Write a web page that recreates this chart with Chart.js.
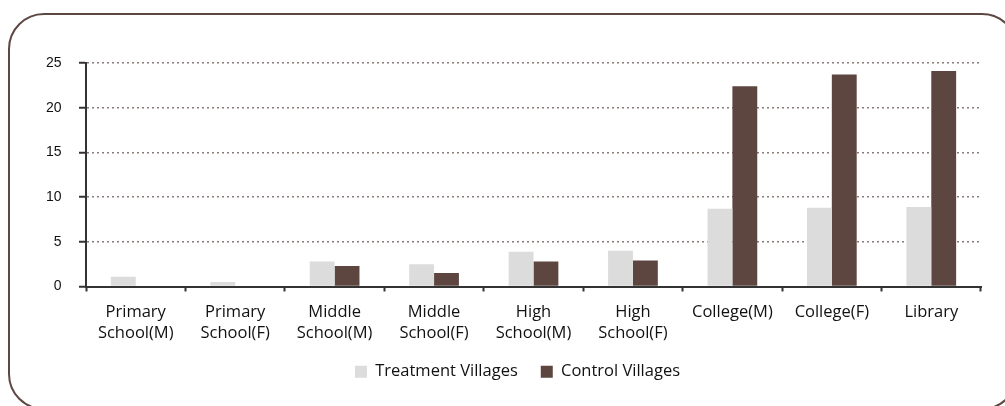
<!DOCTYPE html>
<html>
<head>
<meta charset="utf-8">
<script src="https://cdn.jsdelivr.net/npm/chart.js@4.4.1/dist/chart.umd.min.js"></script>
<style>
  html, body { margin: 0; padding: 0; background: #fff; overflow: hidden; }
  #wrap { position: relative; width: 1005px; height: 406px; overflow: hidden; }
  #frame {
    position: absolute; left: 8px; top: 13px; width: 1010px; height: 397px;
    border: 2px solid #5d4742; border-radius: 36px; box-sizing: border-box;
  }
  canvas { position: absolute; left: 0; top: 0; }
</style>
</head>
<body>
<div id="wrap">
  <div id="frame"></div>
  <canvas id="chart" width="1005" height="406"></canvas>
</div>
<script>
const categories = [
  ['Primary', 'School(M)'],
  ['Primary', 'School(F)'],
  ['Middle', 'School(M)'],
  ['Middle', 'School(F)'],
  ['High', 'School(M)'],
  ['High', 'School(F)'],
  'College(M)',
  'College(F)',
  'Library'
];
const treatment = [1.1, 0.5, 2.8, 2.5, 3.9, 4.0, 8.7, 8.8, 8.9];
const control = [0, 0, 2.3, 1.5, 2.8, 2.9, 22.4, 23.7, 24.1];
const yTicks = [0, 5, 10, 15, 20, 25];

const labelFont = { family: "'Open Sans', sans-serif", size: 16.5 };

new Chart(document.getElementById('chart'), {
  type: 'bar',
  data: {
    labels: categories,
    datasets: [
      { label: 'Treatment Villages', data: treatment, backgroundColor: '#dcdcdc' },
      { label: 'Control Villages', data: control, backgroundColor: '#5d4540' }
    ]
  },
  options: {
    responsive: false,
    animation: false,
    layout: { padding: { top: 63, right: 24, left: 54, bottom: 16 } },
    datasets: { bar: { barPercentage: 1, categoryPercentage: 0.5 } },
    plugins: {
      tooltip: { enabled: false },
      legend: {
        position: 'bottom',
        labels: {
          boxWidth: 12, boxHeight: 12, padding: 23,
          color: '#111', font: labelFont
        }
      }
    },
    scales: {
      x: {
        grid: {
          offset: true, drawOnChartArea: false, drawTicks: true,
          tickLength: 5, tickColor: '#333', tickWidth: 2
        },
        border: { color: '#333', width: 2 },
        ticks: { color: '#111', font: { ...labelFont, lineHeight: '21px' }, padding: 10, maxRotation: 0, autoSkip: false },
        afterFit: (scale) => { scale.height = 54; }
      },
      y: {
        min: 0, max: 25,
        afterBuildTicks: (scale) => { scale.ticks = yTicks.map(v => ({ value: v })); },
        grid: {
          color: (ctx) => ctx.tick && ctx.tick.value === 0 ? 'rgba(0,0,0,0)' : '#8a7c79',
          lineWidth: 1.5,
          tickLength: 7, tickColor: '#333', tickWidth: 2, tickBorderDash: []
        },
        border: { color: '#333', width: 2, dash: [2, 3] },
        // labels sit left of the narrow axis box, so mirror them back out
        ticks: {
          color: '#111', font: { family: "'Liberation Sans', Arial, sans-serif", size: 14 },
          mirror: true, crossAlign: 'far', padding: -40
        },
        afterFit: (scale) => { scale.width = 32; }
      }
    }
  }
});
</script>
</body>
</html>
